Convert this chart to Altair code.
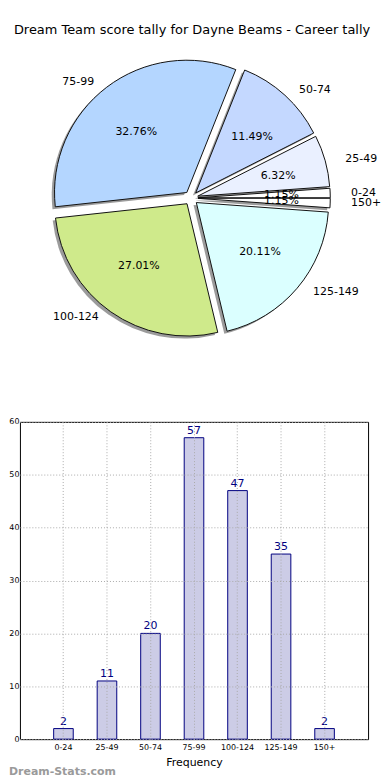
import altair as alt
import pandas as pd

FONT = "DejaVu Sans"
TITLE = "Dream Team score tally for Dayne Beams - Career tally"

categories = ["0-24", "25-49", "50-74", "75-99", "100-124", "125-149", "150+"]
counts = [2, 11, 20, 57, 47, 35, 2]
slice_colors = ["#ffffff", "#eaf0ff", "#c4d8ff", "#b4d6ff", "#cfea8b", "#dbffff", "#ffffff"]
y_ticks = [0, 10, 20, 30, 40, 50, 60]

df = pd.DataFrame({"cat": categories, "count": counts, "order": list(range(len(categories)))})

# ---------- pie panel ----------
CX, CY, E = 172, 189, 7
R = 133
RX, RY = 140, 127

pie_base = (
    alt.Chart(df)
    .transform_joinaggregate(total="sum(count)")
    .transform_window(cum="sum(count)", sort=[alt.SortField("order")], frame=[None, 0])
    .transform_calculate(
        a0="(datum.cum - datum.count) / datum.total * 2 * PI",
        a1="datum.cum / datum.total * 2 * PI",
    )
    .transform_calculate(
        mid="(datum.a0 + datum.a1) / 2",
        th="2.5 * PI - datum.a1",
        th2="2.5 * PI - datum.a0",
        pct="format(datum.count / datum.total, '.2%')",
    )
    .transform_calculate(
        px=f"{CX} + {E} * cos(datum.mid)",
        py=f"{CY} - {E} * sin(datum.mid)",
    )
    .transform_calculate(
        sx="datum.px - 2.8",
        sy="datum.py + 2.5",
        tx=f"datum.px + 0.6 * {RX} * cos(datum.mid)",
        ty=f"datum.py - 0.6 * {RY} * sin(datum.mid)",
        lx=f"datum.px + 1.1 * {RX} * cos(datum.mid)",
        ly=f"datum.py - 1.1 * {RY} * sin(datum.mid)",
    )
)

shadow = pie_base.mark_arc(outerRadius=R, fill="#7a7a7a", opacity=0.75).encode(
    theta=alt.Theta("th:Q", scale=None),
    theta2=alt.Theta2("th2"),
    x=alt.X("sx:Q", scale=None, axis=None),
    y=alt.Y("sy:Q", scale=None, axis=None),
)

wedges = pie_base.mark_arc(outerRadius=R, stroke="#111111", strokeWidth=1).encode(
    theta=alt.Theta("th:Q", scale=None),
    theta2=alt.Theta2("th2"),
    x=alt.X("px:Q", scale=None, axis=None),
    y=alt.Y("py:Q", scale=None, axis=None),
    fill=alt.Fill("cat:N", scale=alt.Scale(domain=categories, range=slice_colors), legend=None),
)

pct_text = pie_base.mark_text(font=FONT, fontSize=11, color="black", baseline="middle").encode(
    x=alt.X("tx:Q", scale=None, axis=None),
    y=alt.Y("ty:Q", scale=None, axis=None),
    text="pct:N",
)

labels_r = pie_base.transform_filter("cos(datum.mid) >= 0").mark_text(
    font=FONT, fontSize=11, color="black", align="left", baseline="middle"
).encode(
    x=alt.X("lx:Q", scale=None, axis=None),
    y=alt.Y("ly:Q", scale=None, axis=None),
    text="cat:N",
)

labels_l = pie_base.transform_filter("cos(datum.mid) < 0").mark_text(
    font=FONT, fontSize=11, color="black", align="right", baseline="middle"
).encode(
    x=alt.X("lx:Q", scale=None, axis=None),
    y=alt.Y("ly:Q", scale=None, axis=None),
    text="cat:N",
)

title_mark = alt.Chart(pd.DataFrame({"t": [TITLE]})).mark_text(
    font=FONT, fontSize=13, color="black", align="center", baseline="middle"
).encode(x=alt.value(173), y=alt.value(20), text="t:N")

pie = alt.layer(shadow, wedges, pct_text, labels_r, labels_l, title_mark).properties(
    width=350, height=393
)

# ---------- bar panel ----------
grid_style = dict(grid=True, gridDash=[1, 2], gridColor="#aaaaaa", gridWidth=1, domain=False, ticks=False, zindex=1)

xenc = alt.X(
    "cat:N",
    sort=categories,
    scale=alt.Scale(paddingInner=0.55, paddingOuter=0.775),
    axis=alt.Axis(
        title="Frequency", labelAngle=0, labelFont=FONT, labelFontSize=8, labelColor="black",
        labelPadding=4, titleFont=FONT, titleFontSize=11, titleFontWeight="normal",
        titleColor="black", titlePadding=5, bandPosition=0.5, **grid_style,
    ),
)
yenc = alt.Y(
    "count:Q",
    scale=alt.Scale(domain=[0, 60], nice=False),
    axis=alt.Axis(
        values=y_ticks, title=None, labelFont=FONT, labelFontSize=8, labelColor="black",
        labelPadding=1, **grid_style,
    ),
)

bar_base = alt.Chart(df)
bars = bar_base.mark_bar(fill="#cccce6", stroke="#000080", strokeWidth=1).encode(x=xenc, y=yenc)
bar_text = bar_base.mark_text(
    font=FONT, fontSize=11, color="#000080", baseline="alphabetic", dy=-4
).encode(x=alt.X("cat:N", sort=categories), y="count:Q", text="count:Q")

watermark = alt.Chart(pd.DataFrame({"t": ["Dream-Stats.com"]})).mark_text(
    font=FONT, fontSize=11, fontWeight="bold", color="#9a9a9a", align="left", baseline="middle"
).encode(x=alt.value(-11), y=alt.value(352), text="t:N")

barchart = alt.layer(bars, bar_text, watermark).properties(
    width=350, height=319, view=alt.ViewBackground(stroke="black", strokeWidth=1)
)

chart = (
    alt.vconcat(pie, barchart, spacing=16)
    .properties(padding=0)
    .configure(font=FONT)
    .configure_view(strokeWidth=0)
)

chart.save("out.html", embed_options={"renderer": "svg", "actions": False})
